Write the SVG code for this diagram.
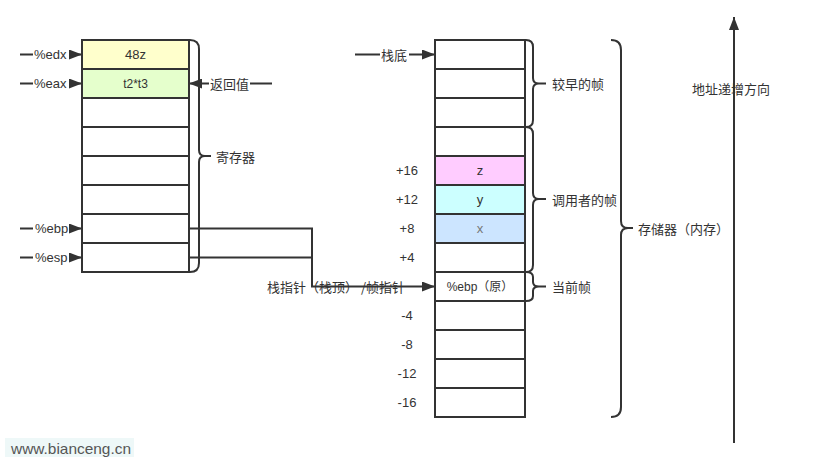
<svg xmlns="http://www.w3.org/2000/svg" width="831" height="463" viewBox="0 0 831 463">
<style>
text{font-family:"Liberation Sans","Noto Sans CJK SC",sans-serif;font-size:13px;fill:#333;dominant-baseline:central}
.c{font-family:"Noto Sans CJK SC","Liberation Sans",sans-serif}
.m{text-anchor:middle}
.cell{stroke:#333;stroke-width:2;fill:#fff}
.ln{stroke:#333;stroke-width:2;fill:none}
.br{stroke:#333;stroke-width:2;fill:none}
.bg{fill:#fff}
</style>
<defs>
<marker id="ah" markerWidth="13" markerHeight="10" refX="13" refY="5" orient="auto" markerUnits="userSpaceOnUse">
<path d="M0,0 L13,5 L0,10 z" fill="#333"/>
</marker>
</defs>
<rect width="831" height="463" fill="#fff"/>

<g id="connectors">
<path class="ln" d="M20 54.5 H82" marker-end="url(#ah)"/>
<path class="ln" d="M20 83.5 H82" marker-end="url(#ah)"/>
<path class="ln" d="M20 228.5 H82" marker-end="url(#ah)"/>
<path class="ln" d="M20 257.5 H82" marker-end="url(#ah)"/>
<path class="ln" d="M272 83.5 H189" marker-end="url(#ah)"/>
<path class="ln" d="M355 54.5 H435" marker-end="url(#ah)"/>
<path class="ln" d="M189 228.5 H312 V286.5 H435" marker-end="url(#ah)"/>
<path class="ln" d="M189 257.5 H312"/>
<path class="ln" d="M734 443 V17" marker-end="url(#ah)"/>
</g>

<g id="edge-labels">
<rect class="bg" x="33" y="46" width="36" height="17"/>
<text x="34" y="54.5">%edx</text>
<rect class="bg" x="33" y="75" width="36" height="17"/>
<text x="34" y="83.5">%eax</text>
<rect class="bg" x="33" y="220" width="36" height="17"/>
<text x="35" y="228.5">%ebp</text>
<rect class="bg" x="33" y="249" width="36" height="17"/>
<text x="35" y="257.5">%esp</text>
<rect class="bg" x="209" y="75" width="41" height="17"/>
<text class="c" x="210" y="83.5">返回值</text>
<rect class="bg" x="380" y="46" width="29" height="17"/>
<text class="c" x="381" y="54.5">栈底</text>
<text class="c" x="267" y="286.5">栈指针（栈顶） /帧指针</text>
<text class="c m" x="731" y="88">地址递增方向</text>
</g>

<g id="registers">
<rect class="cell" x="82" y="40" width="107" height="29" style="fill:#ffffcc"/>
<text class="m" x="135.5" y="54.5">48z</text>
<rect class="cell" x="82" y="69" width="107" height="29" style="fill:#e5ffcc"/>
<text class="m" x="135.5" y="83.5" style="font-size:12px">t2*t3</text>
<rect class="cell" x="82" y="98" width="107" height="29"/>
<rect class="cell" x="82" y="127" width="107" height="29"/>
<rect class="cell" x="82" y="156" width="107" height="29"/>
<rect class="cell" x="82" y="185" width="107" height="29"/>
<rect class="cell" x="82" y="214" width="107" height="29"/>
<rect class="cell" x="82" y="243" width="107" height="29"/>
</g>

<g id="register-brace">
<path class="br" d="M190 40 Q199 40 199 49 L199 150 Q199 156 205 156 L211 156 M205 156 Q199 156 199 162 L199 263 Q199 272 190 272"/>
<text class="c" x="216" y="156">寄存器</text>
</g>

<g id="stack">
<rect class="cell" x="435" y="40" width="90" height="29"/>
<rect class="cell" x="435" y="69" width="90" height="29"/>
<rect class="cell" x="435" y="98" width="90" height="29"/>
<rect class="cell" x="435" y="127" width="90" height="29"/>
<rect class="cell" x="435" y="156" width="90" height="29" style="fill:#ffccff"/>
<text class="m" x="480" y="170.5">z</text>
<rect class="cell" x="435" y="185" width="90" height="29" style="fill:#ccffff"/>
<text class="m" x="480" y="199.5">y</text>
<rect class="cell" x="435" y="214" width="90" height="29" style="fill:#cce5ff"/>
<text class="m" x="480" y="228.5" style="fill:#777">x</text>
<rect class="cell" x="435" y="243" width="90" height="29"/>
<rect class="cell" x="435" y="272" width="90" height="29"/>
<text class="m" x="480" y="286.5" style="font-size:12px">%ebp（原）</text>
<rect class="cell" x="435" y="301" width="90" height="29"/>
<rect class="cell" x="435" y="330" width="90" height="29"/>
<rect class="cell" x="435" y="359" width="90" height="29"/>
<rect class="cell" x="435" y="388" width="90" height="29"/>
</g>

<g id="offsets">
<text class="m" x="407" y="170.5">+16</text>
<text class="m" x="407" y="199.5">+12</text>
<text class="m" x="407" y="228.5">+8</text>
<text class="m" x="407" y="257.5">+4</text>
<text class="m" x="407" y="315.5">-4</text>
<text class="m" x="407" y="344.5">-8</text>
<text class="m" x="407" y="373.5">-12</text>
<text class="m" x="407" y="402.5">-16</text>
</g>

<g id="brace-earlier">
<path class="br" d="M526 40 Q533 40 533 47 L533 78 Q533 83.5 539 83.5 L546 83.5 M539 83.5 Q533 83.5 533 89 L533 120 Q533 127 526 127"/>
<text class="c" x="552" y="83.5">较早的帧</text>
</g>
<g id="brace-caller">
<path class="br" d="M526 127 Q533 127 533 134 L533 193 Q533 199 539 199 L546 199 M539 199 Q533 199 533 205 L533 265 Q533 272 526 272"/>
<text class="c" x="552" y="199">调用者的帧</text>
</g>
<g id="brace-current">
<path class="br" d="M526 272 Q533 272 533 277 L533 282 Q533 286.5 539 286.5 L546 286.5 M539 286.5 Q533 286.5 533 291 L533 296 Q533 301 526 301"/>
<text class="c" x="552" y="286.5">当前帧</text>
</g>
<g id="brace-memory">
<path class="br" d="M611 40 Q621 40 621 50 L621 221 Q621 228 628 228 L633 228 M628 228 Q621 228 621 235 L621 407 Q621 417 611 417"/>
<text class="c" x="638" y="228">存储器（内存）</text>
</g>

<g id="watermark">
<rect x="5" y="438" width="129" height="19" fill="#eef8f8"/>
<text x="11" y="448" textLength="120" lengthAdjust="spacingAndGlyphs" style="fill:#555;font-size:15px">www.bianceng.cn</text>
</g>
</svg>
